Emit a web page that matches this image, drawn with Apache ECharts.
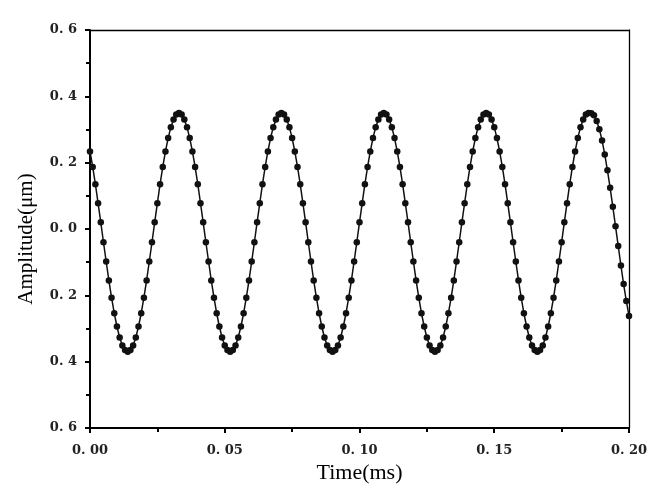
<!DOCTYPE html>
<html>
<head>
<meta charset="utf-8">
<script src="https://cdn.jsdelivr.net/npm/echarts@6/dist/echarts.min.js"></script>
<style>
  html, body { margin: 0; padding: 0; background: #fff; }
  #chart { width: 669px; height: 496px; }
</style>
</head>
<body>
<div id="chart"></div>
<script>
// sample times (ms)
var time = [
  0.000, 0.001, 0.002, 0.003, 0.004, 0.005, 0.006, 0.007, 0.008, 0.009,
  0.010, 0.011, 0.012, 0.013, 0.014, 0.015, 0.016, 0.017, 0.018, 0.019,
  0.020, 0.021, 0.022, 0.023, 0.024, 0.025, 0.026, 0.027, 0.028, 0.029,
  0.030, 0.031, 0.032, 0.033, 0.034, 0.035, 0.036, 0.037, 0.038, 0.039,
  0.040, 0.041, 0.042, 0.043, 0.044, 0.045, 0.046, 0.047, 0.048, 0.049,
  0.050, 0.051, 0.052, 0.053, 0.054, 0.055, 0.056, 0.057, 0.058, 0.059,
  0.060, 0.061, 0.062, 0.063, 0.064, 0.065, 0.066, 0.067, 0.068, 0.069,
  0.070, 0.071, 0.072, 0.073, 0.074, 0.075, 0.076, 0.077, 0.078, 0.079,
  0.080, 0.081, 0.082, 0.083, 0.084, 0.085, 0.086, 0.087, 0.088, 0.089,
  0.090, 0.091, 0.092, 0.093, 0.094, 0.095, 0.096, 0.097, 0.098, 0.099,
  0.100, 0.101, 0.102, 0.103, 0.104, 0.105, 0.106, 0.107, 0.108, 0.109,
  0.110, 0.111, 0.112, 0.113, 0.114, 0.115, 0.116, 0.117, 0.118, 0.119,
  0.120, 0.121, 0.122, 0.123, 0.124, 0.125, 0.126, 0.127, 0.128, 0.129,
  0.130, 0.131, 0.132, 0.133, 0.134, 0.135, 0.136, 0.137, 0.138, 0.139,
  0.140, 0.141, 0.142, 0.143, 0.144, 0.145, 0.146, 0.147, 0.148, 0.149,
  0.150, 0.151, 0.152, 0.153, 0.154, 0.155, 0.156, 0.157, 0.158, 0.159,
  0.160, 0.161, 0.162, 0.163, 0.164, 0.165, 0.166, 0.167, 0.168, 0.169,
  0.170, 0.171, 0.172, 0.173, 0.174, 0.175, 0.176, 0.177, 0.178, 0.179,
  0.180, 0.181, 0.182, 0.183, 0.184, 0.185, 0.186, 0.187, 0.188, 0.189,
  0.190, 0.191, 0.192, 0.193, 0.194, 0.195, 0.196, 0.197, 0.198, 0.199,
  0.200
]

// amplitude (um)
var amplitude = [
  0.234, 0.187, 0.135, 0.078, 0.020, -0.040, -0.098, -0.155, -0.207, -0.254,
  -0.294, -0.327, -0.351, -0.365, -0.370, -0.365, -0.351, -0.327, -0.294, -0.254,
  -0.207, -0.155, -0.098, -0.040, 0.020, 0.078, 0.135, 0.187, 0.234, 0.274,
  0.307, 0.330, 0.345, 0.350, 0.345, 0.330, 0.307, 0.274,
  0.234, 0.187, 0.135, 0.078, 0.020, -0.040, -0.098, -0.155, -0.207, -0.254,
  -0.294, -0.327, -0.351, -0.365, -0.370, -0.365, -0.351, -0.327, -0.294, -0.254,
  -0.207, -0.155, -0.098, -0.040, 0.020, 0.078, 0.135, 0.187, 0.234, 0.274,
  0.307, 0.330, 0.345, 0.350, 0.345, 0.330, 0.307, 0.274,
  0.234, 0.187, 0.135, 0.078, 0.020, -0.040, -0.098, -0.155, -0.207, -0.254,
  -0.294, -0.327, -0.351, -0.365, -0.370, -0.365, -0.351, -0.327, -0.294, -0.254,
  -0.207, -0.155, -0.098, -0.040, 0.020, 0.078, 0.135, 0.187, 0.234, 0.274,
  0.307, 0.330, 0.345, 0.350, 0.345, 0.330, 0.307, 0.274,
  0.234, 0.187, 0.135, 0.078, 0.020, -0.040, -0.098, -0.155, -0.207, -0.254,
  -0.294, -0.327, -0.351, -0.365, -0.370, -0.365, -0.351, -0.327, -0.294, -0.254,
  -0.207, -0.155, -0.098, -0.040, 0.020, 0.078, 0.135, 0.187, 0.234, 0.274,
  0.307, 0.330, 0.345, 0.350, 0.345, 0.330, 0.307, 0.274,
  0.234, 0.187, 0.135, 0.078, 0.020, -0.040, -0.098, -0.155, -0.207, -0.254,
  -0.294, -0.327, -0.351, -0.365, -0.370, -0.365, -0.351, -0.327, -0.294, -0.254,
  -0.207, -0.155, -0.098, -0.040, 0.020, 0.078, 0.135, 0.187, 0.234, 0.274,
  0.307, 0.330, 0.345, 0.350,
  0.349, 0.343, 0.326, 0.301, 0.267, 0.225, 0.177, 0.124, 0.067, 0.008,
  -0.051, -0.110, -0.166, -0.217, -0.262
]

var xTicks = [0, 0.05, 0.10, 0.15, 0.20]
var yTicks = [-0.6, -0.4, -0.2, 0.0, 0.2, 0.4, 0.6]

var points = time.map(function (t, i) { return [t, amplitude[i]] })

var serif = '"Liberation Serif", "DejaVu Serif", serif'
var tickFont = '"DejaVu Serif", serif'
var ink = '#000'

var chart = echarts.init(document.getElementById('chart'))
chart.setOption({
  backgroundColor: '#fff',
  animation: false,
  grid: { left: 90, right: 40, top: 30, bottom: 68 },
  xAxis: [{
    type: 'value',
    min: xTicks[0],
    max: xTicks[xTicks.length - 1],
    interval: 0.05,
    name: 'Time(ms)',
    nameLocation: 'middle',
    nameGap: 34,
    nameTextStyle: { fontFamily: serif, fontSize: 22, color: ink },
    axisLine: { onZero: false, lineStyle: { color: ink, width: 2 } },
    axisTick: { inside: false, length: 5, lineStyle: { color: ink, width: 2 } },
    minorTick: { show: true, splitNumber: 2, length: 4, lineStyle: { color: ink, width: 2 } },
    splitLine: { show: false },
    axisLabel: {
      margin: 16,
      fontFamily: tickFont, fontSize: 13, fontWeight: 'bold', color: '#222',
      formatter: function (v) { return v.toFixed(2).replace('.', '. ') }
    }
  }, {
    type: 'value', position: 'top',
    min: xTicks[0], max: xTicks[xTicks.length - 1],
    axisLine: { show: true, onZero: false, lineStyle: { color: ink, width: 1.3 } },
    axisTick: { show: false }, axisLabel: { show: false }, splitLine: { show: false }
  }],
  yAxis: [{
    type: 'value',
    min: yTicks[0],
    max: yTicks[yTicks.length - 1],
    interval: 0.2,
    name: 'Amplitude(\u03bcm)',
    nameLocation: 'middle',
    nameGap: 53,
    nameTextStyle: { fontFamily: serif, fontSize: 21, color: ink, padding: [0, 20, 0, 0] },
    axisLine: { onZero: false, lineStyle: { color: ink, width: 2 } },
    axisTick: { inside: false, length: 5, lineStyle: { color: ink, width: 2 } },
    minorTick: { show: true, splitNumber: 2, length: 4, lineStyle: { color: ink, width: 2 } },
    splitLine: { show: false },
    axisLabel: {
      margin: 13,
      fontFamily: tickFont, fontSize: 13, fontWeight: 'bold', color: '#222',
      formatter: function (v) { return Math.abs(v).toFixed(1).replace('.', '. ') }
    }
  }, {
    type: 'value', position: 'right',
    min: yTicks[0], max: yTicks[yTicks.length - 1],
    axisLine: { show: true, onZero: false, lineStyle: { color: ink, width: 1.3 } },
    axisTick: { show: false }, axisLabel: { show: false }, splitLine: { show: false }
  }],
  series: [{
    type: 'line',
    data: points,
    xAxisIndex: 0,
    yAxisIndex: 0,
    symbol: 'circle',
    symbolSize: 6.5,
    showAllSymbol: true,
    lineStyle: { color: '#111', width: 1.5 },
    itemStyle: { color: '#111' }
  }]
})
</script>
</body>
</html>
